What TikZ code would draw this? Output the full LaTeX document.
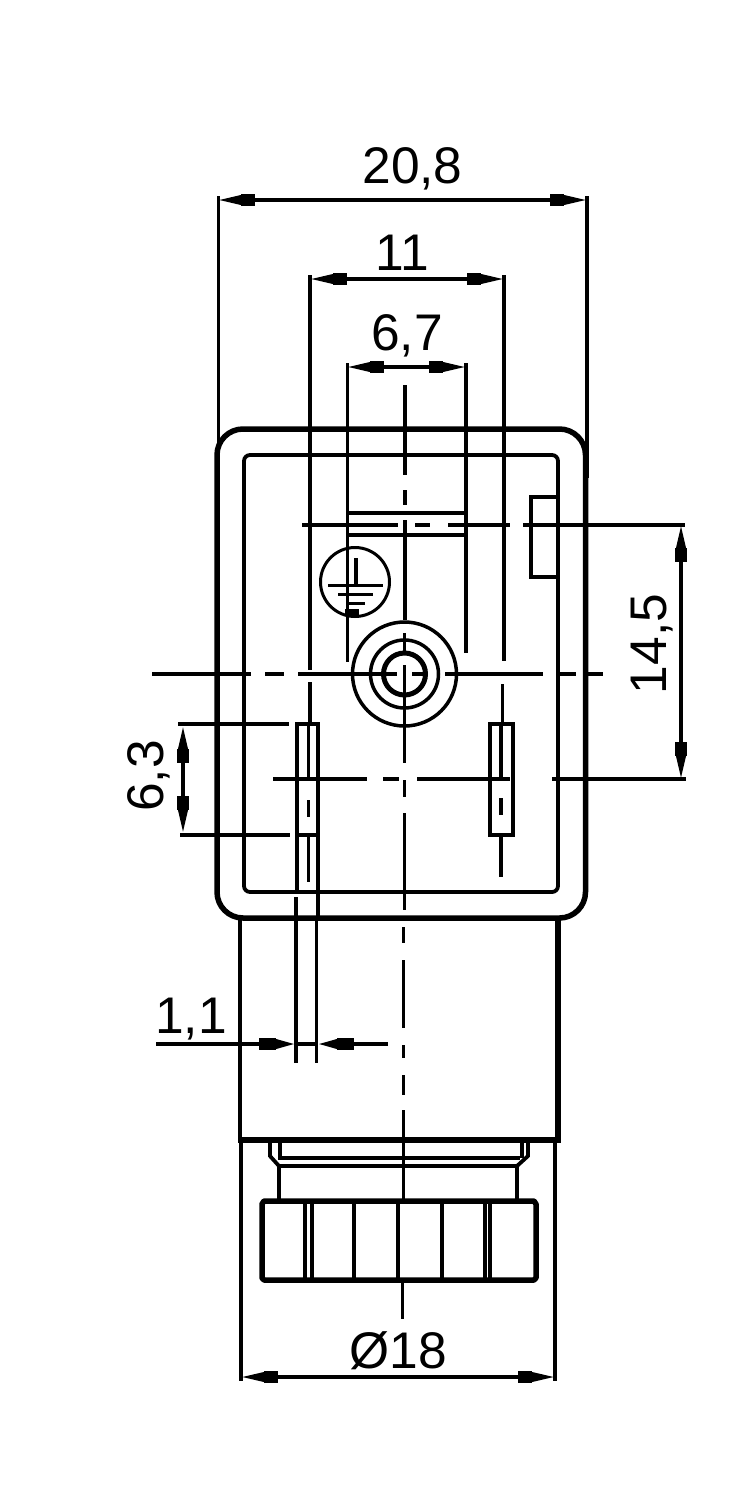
\documentclass[tikz,border=0pt]{standalone}
\usepackage{fontspec}
\setmainfont{Liberation Sans}
\usetikzlibrary{arrows.meta}
\tikzset{
  heavy/.style={line width=5.5pt,line join=round},
  medium/.style={line width=3.8pt},
  fine/.style={line width=3.5pt},
  hair/.style={line width=3pt},
  dimline/.style={line width=3.4pt,{Triangle[length=23pt,width=9pt]Rectangle[length=14pt,width=12pt]}-{Rectangle[length=14pt,width=12pt]Triangle[length=23pt,width=9pt]}},
  inarrow/.style={line width=3.4pt,-{Rectangle[length=17pt,width=12pt]Triangle[length=19pt,width=9pt]}},
  dimtext/.style={font=\fontsize{51.5}{52}\selectfont,inner sep=0pt,text=black,anchor=base}
}
\begin{document}
\begin{tikzpicture}[x=1pt,y=-1pt]
\useasboundingbox (0,0) rectangle (754,1500);
\fill[white] (0,0) rectangle (754,1500);
% housing
\draw[heavy,rounded corners=26pt] (217,429) rectangle (585.5,918);
\draw[medium,rounded corners=6pt] (244,455) rectangle (558,892);
% seal tab
\draw[fine] (557,497) -- (531,497) -- (531,577) -- (557,577);
% lower body
\draw[medium] (240,918) -- (240,1140);
\draw[heavy] (558,918) -- (558,1143);
\draw[heavy] (238,1140) -- (561,1140);
% collar
\draw[medium] (270,1142) -- (270,1156) -- (279,1166) -- (279,1201);
\draw[medium] (528,1142) -- (528,1156) -- (517,1166) -- (517,1201);
\draw[fine] (280,1142) -- (280,1158) (522,1142) -- (522,1158);
\draw[medium] (278,1158) -- (520,1158) (278,1166) -- (518,1166);
% nut
\draw[heavy] (264,1201) -- (534,1201) -- (536,1204) -- (536,1278) -- (534,1280) -- (264,1280) -- (262,1278) -- (262,1204) -- cycle;
\draw[medium] (305,1201) -- (305,1280) (312,1201) -- (312,1280) (354,1201) -- (354,1280) (398,1201) -- (398,1280) (442,1201) -- (442,1280) (485,1201) -- (485,1280) (490,1201) -- (490,1280);
% terminals
\draw[medium] (297,724) rectangle (318,835);
\draw[medium] (297,835) -- (297,892) (318,835) -- (318,918);
\draw[medium] (296,897) -- (296,1063) (316.5,918) -- (316.5,1063);
\draw[medium] (490,724) rectangle (513,835);
% pins centre lines
\draw[hair] (308,725) -- (308,777) (308,800) -- (308,817) (308,837) -- (308,882);
\draw[fine] (501,725) -- (501,778) (501,798) -- (501,815) (501,835) -- (501,877);
% connector circles
\draw[fine] (404.5,674) circle[radius=52];
\draw[fine] (404.5,674) circle[radius=34];
\draw[line width=5pt] (404.5,674) circle[radius=21];
% earth symbol
\draw[hair] (355,582) circle[radius=34.5];
\draw[fine] (356,558) -- (356,585);
\draw[hair] (328,585) -- (383,585) (338,594) -- (373,594) (346,603) -- (365,603);
\draw[line width=6pt] (345,612) -- (359,612);
% centre lines, horizontal
\draw[fine] (152,674) -- (251,674) (265,674) -- (284,674) (298,674) -- (397,674) (412,674) -- (425,674) (445,674) -- (543,674) (560,674) -- (576,674) (587,674) -- (603,674);
\draw[fine] (273,779) -- (367,779) (383,779) -- (399,779) (417,779) -- (510,779) (552,779) -- (686,779);
\draw[fine] (302,525) -- (398,525) (415,525) -- (430,525) (448,525) -- (510,525) (523,525) -- (685,525);
% centre lines, vertical
\draw[fine] (405,385) -- (405,475) (405,490) -- (405,505) (405,520) -- (405,620);
\draw[fine] (404.5,633) -- (404.5,655) (404.5,665) -- (404.5,763) (404.5,780) -- (404.5,797) (404.5,813) -- (404.5,910);
\draw[hair] (403,927) -- (403,943) (403,960) -- (403,1028) (403,1045) -- (403,1058) (403,1075) -- (403,1095) (403,1110) -- (403,1201) (402,1282) -- (402,1319);
% extension lines
\draw[fine] (218.5,196) -- (218.5,443) (587,196) -- (587,478);
\draw[fine] (310,275) -- (310,670) (310,682) -- (310,725);
\draw[fine] (504,275) -- (504,661) (502.5,684) -- (502.5,725);
\draw[medium] (347.5,363) -- (347.5,662);
\draw[fine] (466,363) -- (466,653);
\draw[fine] (348,513) -- (466,513) (348,535) -- (466,535);
\draw[fine] (178,724) -- (289,724) (180,835) -- (290,835);
\draw[fine] (241,1140) -- (241,1381) (555,1140) -- (555,1381);
% dimension lines
\draw[dimline] (218,200) -- (587,200);
\draw[dimline] (310,279) -- (504,279);
\draw[dimline] (347,367) -- (466,367);
\draw[dimline] (183,726) -- (183,833);
\draw[dimline] (681,525) -- (681,779);
\draw[dimline] (241,1377) -- (555,1377);
\draw[inarrow] (156,1044) -- (295,1044);
\draw[inarrow] (388,1044) -- (318,1044);
\draw[fine] (295,1044) -- (318,1044);
% labels
\node[dimtext] (d208) at (412.5,183) {20,8};
\node[dimtext] (d11) at (402,270) {11};
\node[dimtext] (d67) at (407,350) {6,7};
\node[dimtext,rotate=90] (d145) at (666,644) {14,5};
\node[dimtext,rotate=90] (d63) at (163,776) {6,3};
\node[dimtext] (d18) at (398,1368) {Ø18};
\node[dimtext] (d1) at (191,1033) {1,1};
\end{tikzpicture}
\end{document}
